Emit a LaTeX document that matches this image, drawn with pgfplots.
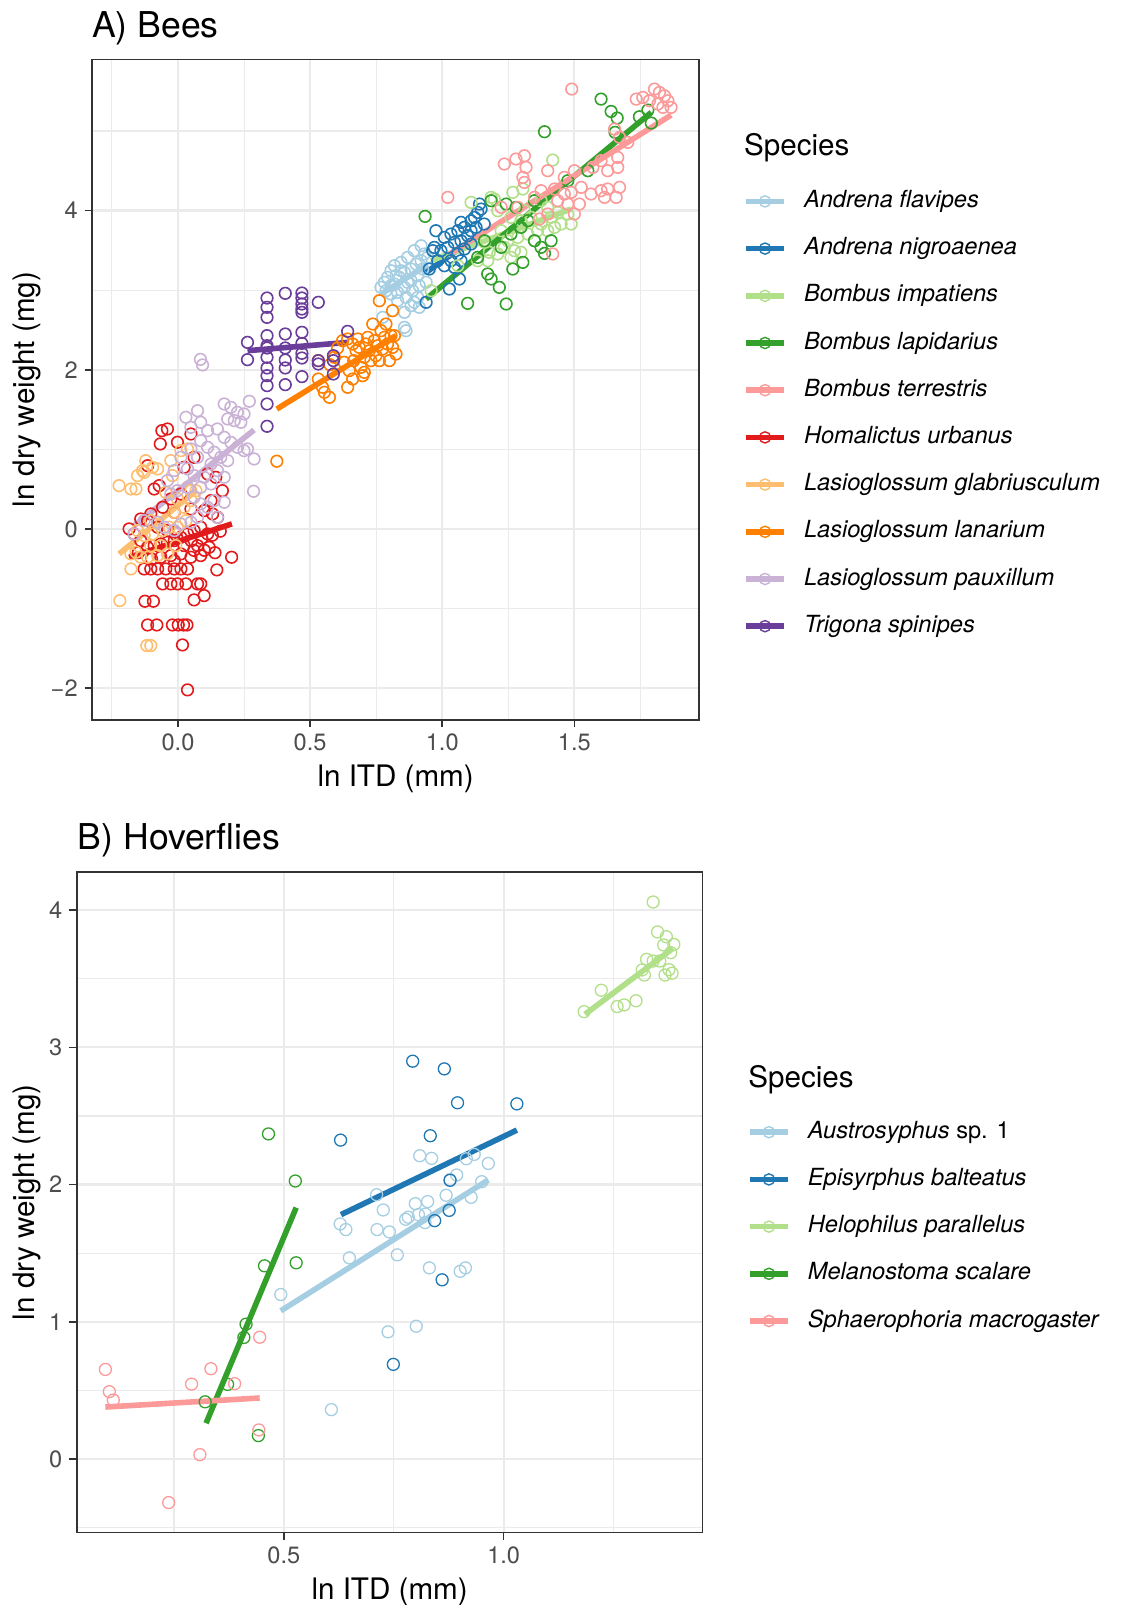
\documentclass[border=0pt]{standalone}
\usepackage{pgfplots}
\pgfplotsset{compat=1.18}
\usepackage{fontspec}
\setmainfont{TeX Gyre Heros}
\definecolor{c1}{HTML}{A6CEE3}
\definecolor{c2}{HTML}{1F78B4}
\definecolor{c3}{HTML}{B2DF8A}
\definecolor{c4}{HTML}{33A02C}
\definecolor{c5}{HTML}{FB9A99}
\definecolor{c6}{HTML}{E31A1C}
\definecolor{c7}{HTML}{FDBF6F}
\definecolor{c8}{HTML}{FF7F00}
\definecolor{c9}{HTML}{CAB2D6}
\definecolor{c10}{HTML}{6A3D9A}
\definecolor{gridc}{HTML}{EBEBEB}
\definecolor{axc}{HTML}{333333}
\definecolor{tickc}{HTML}{4D4D4D}
\pgfplotsset{
  ggbase/.style={
    scale only axis,
    anchor=north west,
    axis line style={axc, line width=0.8pt},
    tick align=outside,
    major tick length=3.7pt,
    minor tick length=0pt,
    tick style={axc, line width=0.8pt},
    xtick pos=left, ytick pos=left,
    grid=both,
    major grid style={gridc, line width=1.1pt},
    minor grid style={gridc, line width=0.55pt},
    tick label style={font=\fontsize{11.8}{14}\selectfont, text=tickc},
    legend style={draw=none, fill=none, inner sep=0pt, outer sep=0pt,
      row sep=12.3pt, column sep=8.6pt,
      font=\fontsize{11.8}{14}\selectfont\itshape,
      nodes={inner sep=0pt, text height=8.7pt, text depth=2.6pt},
      anchor=north west},
    legend cell align=left,
    legend image code/.code={
      \draw[##1, line width=2.8pt] (0pt,0pt) -- (19pt,0pt);
      \draw[##1, line width=0.7pt] (9.5pt,0pt) circle (2.8pt);
    },
  },
  ptsA/.style={only marks, mark=o, mark size=2.9pt, mark options={line width=0.8pt}, forget plot},
  ptsB/.style={only marks, mark=o, mark size=3.0pt, mark options={line width=0.65pt}, forget plot},
  fit/.style={line width=2.8pt},
}
\begin{document}
\begin{tikzpicture}
\useasboundingbox (0,0) rectangle (560.5pt,-802.5pt);
% ---------------- Panel A ----------------
\begin{axis}[ggbase, at={(46.05pt,-29.7pt)}, width=303.5pt, height=330.2pt,
  xmin=-0.325, xmax=1.972, ymin=-2.40, ymax=5.90,
  xtick={0,0.5,1,1.5}, xticklabels={0.0,0.5,1.0,1.5},
  ytick={-2,0,2,4}, yticklabels={−2,0,2,4},
  minor xtick={-0.25,0.25,0.75,1.25,1.75}, minor ytick={-1,1,3,5},
  legend style={at={(axis description cs:1.0727,0.8021)}}]
% Andrena flavipes
\addplot[ptsA, c1] coordinates {(0.920,3.558)(0.894,3.496)(0.869,3.412)(0.844,3.349)(0.819,3.307)(0.806,3.244)(0.793,3.161)(0.781,3.098)(0.768,3.035)(0.787,2.993)(0.819,3.077)(0.838,3.161)(0.857,3.223)(0.882,3.265)(0.901,3.328)(0.920,3.370)(0.932,3.454)(0.907,3.182)(0.882,3.119)(0.857,3.035)(0.831,2.972)(0.806,2.951)(0.888,2.993)(0.913,3.056)(0.863,2.909)(0.894,2.847)(0.913,2.784)(0.882,2.805)(0.857,2.721)(0.775,2.658)(0.857,2.532)(0.945,3.412)(0.926,3.265)(0.844,3.244)(0.825,3.182)(0.869,3.098)(0.806,3.056)(0.831,2.867)(0.907,2.909)(0.939,3.098)(0.863,2.490)};
% Andrena nigroaenea
\addplot[ptsA, c2] coordinates {(0.976,3.747)(1.008,3.663)(1.033,3.705)(1.059,3.747)(1.071,3.852)(1.084,3.789)(1.109,3.872)(1.122,3.914)(1.134,3.977)(1.147,4.019)(1.141,4.082)(1.128,3.789)(1.096,3.684)(1.071,3.621)(1.046,3.600)(1.021,3.537)(0.995,3.496)(0.964,3.496)(0.983,3.370)(1.008,3.307)(1.033,3.370)(1.059,3.454)(1.084,3.517)(1.109,3.579)(1.046,3.286)(1.065,3.140)(1.027,3.014)(0.951,3.265)(0.939,2.847)(1.071,3.370)(1.109,3.747)(1.159,3.831)(0.970,3.537)};
% Bombus impatiens
\addplot[ptsA, c3] coordinates {(1.418,4.635)(1.109,4.103)(1.185,4.166)(1.197,4.145)(1.267,4.229)(1.305,4.271)(1.374,4.124)(1.399,4.040)(1.260,3.915)(1.298,3.873)(1.336,3.915)(1.374,3.831)(1.412,3.915)(1.450,3.831)(1.488,3.831)(1.223,3.747)(1.248,3.621)(1.286,3.663)(1.324,3.705)(1.361,3.747)(1.399,3.747)(1.178,3.475)(1.210,3.454)(1.235,3.538)(1.273,3.496)(1.298,3.475)(1.134,3.370)(1.172,3.370)(1.260,3.412)(0.958,2.993)(1.059,3.307)(1.160,3.601)(1.210,3.998)(1.349,3.621)(1.425,3.789)(1.311,3.998)(1.437,3.977)(1.475,3.957)};
% Bombus lapidarius
\addplot[ptsA, c4] coordinates {(0.935,3.927)(1.387,4.991)(1.601,5.401)(1.639,5.246)(1.662,5.163)(1.654,4.983)(1.746,5.179)(1.778,5.263)(1.791,5.100)(1.412,3.621)(1.387,3.462)(1.305,3.349)(1.267,3.265)(1.185,3.140)(1.216,3.035)(1.096,2.834)(1.242,2.826)(1.172,3.203)(1.134,3.412)(1.223,3.538)(1.279,4.040)(1.242,4.082)(1.185,4.124)(1.349,4.124)(1.349,3.621)(1.374,3.538)(1.324,3.873)(1.298,3.789)(1.160,3.621)(1.260,3.705)(1.475,4.375)(1.551,4.501)};
% Bombus terrestris
\addplot[ptsA, c5] coordinates {(1.490,5.527)(1.734,5.401)(1.759,5.422)(1.803,5.527)(1.822,5.485)(1.841,5.443)(1.854,5.380)(1.816,5.339)(1.784,5.380)(1.835,5.297)(1.866,5.297)(1.652,5.024)(1.671,4.920)(1.702,4.857)(1.235,4.585)(1.279,4.648)(1.311,4.689)(1.317,4.543)(1.305,4.417)(1.311,4.354)(1.399,4.501)(1.500,4.501)(1.462,4.417)(1.526,4.292)(1.570,4.543)(1.601,4.627)(1.626,4.501)(1.664,4.668)(1.664,4.543)(1.021,4.166)(1.374,4.250)(1.425,4.271)(1.462,4.208)(1.488,4.229)(1.519,4.082)(1.563,4.208)(1.601,4.250)(1.626,4.271)(1.658,4.166)(1.671,4.292)(1.437,4.124)(1.475,4.082)(1.349,4.166)(1.286,4.040)(1.223,4.040)(1.418,3.454)(1.614,4.166)(1.399,3.957)(1.500,3.957)(1.368,3.894)};
% Homalictus urbanus
\addplot[ptsA, c6] coordinates {(-0.061,1.234)(-0.040,1.255)(-0.067,1.067)(-0.002,1.088)(0.049,1.192)(-0.115,0.794)(-0.090,0.501)(-0.071,0.543)(-0.185,-0.001)(0.023,0.773)(0.061,0.899)(0.112,0.690)(0.143,0.648)(0.168,0.480)(0.131,0.187)(0.099,0.229)(0.049,0.250)(-0.014,0.208)(-0.058,0.271)(-0.103,0.187)(-0.141,0.124)(-0.166,-0.064)(-0.141,-0.148)(-0.115,-0.232)(-0.090,-0.211)(-0.065,-0.190)(-0.040,-0.169)(-0.014,-0.148)(0.011,-0.106)(0.036,-0.064)(0.061,-0.022)(0.086,0.020)(0.112,-0.064)(-0.040,-0.022)(-0.077,0.020)(-0.115,0.103)(-0.065,-0.357)(-0.027,-0.336)(0.011,-0.315)(0.049,-0.357)(0.086,-0.336)(-0.128,-0.504)(-0.103,-0.504)(-0.077,-0.504)(-0.046,-0.504)(-0.014,-0.504)(0.011,-0.504)(0.036,-0.504)(-0.058,-0.692)(-0.027,-0.692)(-0.002,-0.692)(0.030,-0.692)(0.074,-0.692)(0.086,-0.692)(0.099,-0.839)(0.061,-0.893)(-0.125,-0.910)(-0.093,-0.910)(-0.115,-1.208)(-0.080,-1.208)(-0.021,-1.208)(0.001,-1.208)(0.021,-1.208)(0.034,-1.208)(0.017,-1.459)(0.036,-2.024)(0.203,-0.357)(0.147,-0.516)(0.118,-0.232)(0.074,-0.211)(0.023,-0.211)(-0.014,-0.399)(0.150,0.145)(0.125,0.355)(-0.027,0.376)(0.011,0.438)(0.050,-0.150)(0.090,-0.120)(0.130,-0.080)(0.160,-0.030)(-0.010,-0.040)(0.060,-0.270)(0.100,-0.270)(0.140,-0.300)(-0.100,-0.380)(-0.150,-0.300)};
% Lasioglossum glabriusculum
\addplot[ptsA, c7] coordinates {(-0.223,0.543)(-0.178,0.501)(-0.159,0.501)(-0.153,0.669)(-0.128,0.711)(-0.122,0.857)(-0.134,0.732)(-0.096,0.773)(-0.077,0.753)(-0.027,0.857)(0.011,0.983)(0.036,1.004)(-0.021,0.669)(-0.046,0.459)(-0.002,0.376)(0.049,0.480)(0.068,0.480)(0.030,0.103)(-0.002,0.020)(-0.033,0.020)(-0.058,-0.022)(-0.096,-0.064)(-0.128,-0.085)(-0.153,-0.022)(-0.178,-0.315)(-0.159,-0.294)(-0.141,-0.357)(-0.115,-0.357)(-0.077,-0.336)(-0.040,-0.315)(-0.008,-0.211)(-0.065,-0.211)(-0.103,-0.211)(-0.178,-0.504)(-0.220,-0.902)(-0.118,-1.467)(-0.103,-1.467)(0.023,0.271)(0.049,0.355)(-0.014,0.208)(-0.103,0.103)};
% Lasioglossum lanarium
\addplot[ptsA, c8] coordinates {(0.531,2.114)(0.531,1.883)(0.547,1.779)(0.573,1.653)(0.575,2.063)(0.592,2.156)(0.604,2.273)(0.623,2.365)(0.642,2.386)(0.648,1.988)(0.642,1.779)(0.661,2.323)(0.665,2.114)(0.674,2.239)(0.680,2.386)(0.686,2.281)(0.692,2.030)(0.699,1.925)(0.705,2.156)(0.711,2.323)(0.718,2.407)(0.724,2.239)(0.730,2.114)(0.737,2.574)(0.743,2.365)(0.749,2.176)(0.756,2.302)(0.762,2.114)(0.768,2.491)(0.774,2.260)(0.781,2.407)(0.787,2.574)(0.793,2.323)(0.800,2.114)(0.806,2.428)(0.812,2.281)(0.819,2.428)(0.825,2.197)(0.762,2.867)(0.812,2.742)(0.705,1.967)(0.629,2.093)(0.661,1.883)(0.554,1.716)(0.374,0.850)};
% Lasioglossum pauxillum
\addplot[ptsA, c9] coordinates {(0.175,1.569)(0.200,1.527)(0.225,1.464)(0.250,1.444)(0.270,1.603)(0.188,1.381)(0.213,1.360)(0.238,1.339)(0.074,1.485)(0.030,1.402)(0.049,1.276)(0.086,1.339)(0.112,1.234)(0.149,1.255)(0.175,1.150)(0.200,1.087)(0.225,1.025)(0.250,0.983)(0.288,0.878)(0.263,1.004)(0.086,1.108)(0.112,1.025)(0.137,0.962)(0.162,0.899)(0.188,0.857)(0.125,0.815)(0.149,0.732)(0.175,0.648)(0.099,0.648)(0.061,0.669)(0.036,0.753)(0.074,0.899)(0.049,1.004)(0.011,0.899)(-0.014,0.732)(-0.040,0.606)(-0.027,0.438)(-0.002,0.480)(0.036,0.522)(0.061,0.397)(0.086,0.313)(0.112,0.271)(0.137,0.355)(0.175,0.334)(0.149,0.145)(0.074,0.145)(0.049,0.082)(0.011,0.061)(-0.014,-0.022)(-0.052,0.020)(-0.077,0.082)(-0.128,0.103)(-0.166,-0.064)(0.286,0.472)(0.086,0.522)(0.125,0.564)(0.085,2.130)(0.093,2.060)};
% Trigona spinipes
\addplot[ptsA, c10] coordinates {(0.263,2.344)(0.263,2.126)(0.337,2.901)(0.337,2.784)(0.337,2.658)(0.337,2.428)(0.337,2.302)(0.337,2.273)(0.337,2.156)(0.337,2.022)(0.337,1.925)(0.337,1.800)(0.337,1.569)(0.337,1.289)(0.406,2.960)(0.406,2.449)(0.406,2.273)(0.406,2.122)(0.406,2.022)(0.406,1.812)(0.469,2.964)(0.469,2.901)(0.469,2.826)(0.469,2.763)(0.469,2.721)(0.469,2.470)(0.469,2.331)(0.469,2.206)(0.469,2.147)(0.469,1.913)(0.531,2.847)(0.531,2.114)(0.531,2.072)(0.588,2.176)(0.588,2.114)(0.588,1.946)(0.642,2.482)};
% fitted lines
\addplot[fit, c1] coordinates {(0.768,2.95)(0.945,3.32)};
\addlegendentry{Andrena flavipes}
\addplot[fit, c2] coordinates {(0.939,3.223)(1.159,3.740)};
\addlegendentry{Andrena nigroaenea}
\addplot[fit, c3] coordinates {(0.957,3.370)(1.488,4.019)};
\addlegendentry{Bombus impatiens}
\addplot[fit, c4] coordinates {(0.939,2.889)(1.791,5.234)};
\addlegendentry{Bombus lapidarius}
\addplot[fit, c5] coordinates {(1.027,3.453)(1.866,5.200)};
\addlegendentry{Bombus terrestris}
\addplot[fit, c6] coordinates {(-0.185,-0.358)(0.204,0.062)};
\addlegendentry{Homalictus urbanus}
\addplot[fit, c7] coordinates {(-0.223,-0.315)(0.068,0.480)};
\addlegendentry{Lasioglossum glabriusculum}
\addplot[fit, c8] coordinates {(0.374,1.506)(0.825,2.428)};
\addlegendentry{Lasioglossum lanarium}
\addplot[fit, c9] coordinates {(-0.166,0.041)(0.288,1.243)};
\addlegendentry{Lasioglossum pauxillum}
\addplot[fit, c10] coordinates {(0.263,2.239)(0.642,2.343)};
\addlegendentry{Trigona spinipes}
\end{axis}
% ---------------- Panel B ----------------
\begin{axis}[ggbase, at={(38.4pt,-436.1pt)}, width=312.8pt, height=330.2pt,
  xmin=0.029, xmax=1.452, ymin=-0.536, ymax=4.276,
  xtick={0.5,1}, xticklabels={0.5,1.0},
  ytick={0,1,2,3,4}, yticklabels={0,1,2,3,4},
  minor xtick={0.25,0.75,1.25}, minor ytick={-0.5,0.5,1.5,2.5,3.5},
  legend style={at={(axis description cs:1.0715,0.6234)}}]
\addplot[ptsB, c1] coordinates {(0.628,1.713)(0.641,1.672)(0.649,1.466)(0.711,1.926)(0.726,1.815)(0.712,1.672)(0.740,1.655)(0.758,1.488)(0.809,2.210)(0.836,2.191)(0.799,1.861)(0.827,1.876)(0.777,1.747)(0.783,1.762)(0.806,1.781)(0.822,1.785)(0.821,1.723)(0.869,1.922)(0.878,2.036)(0.893,2.070)(0.915,2.188)(0.933,2.220)(0.965,2.154)(0.950,2.021)(0.926,1.907)(0.831,1.393)(0.901,1.368)(0.913,1.393)(0.737,0.927)(0.801,0.968)(0.608,0.360)(0.493,1.199)};
\addplot[ptsB, c2] coordinates {(0.629,2.324)(0.793,2.899)(0.865,2.843)(0.895,2.596)(1.030,2.588)(0.833,2.356)(0.878,2.031)(0.876,1.812)(0.843,1.737)(0.860,1.306)(0.749,0.690)};
\addplot[ptsB, c3] coordinates {(1.340,4.059)(1.350,3.841)(1.370,3.806)(1.364,3.746)(1.387,3.750)(1.380,3.690)(1.325,3.641)(1.340,3.629)(1.355,3.629)(1.315,3.564)(1.320,3.527)(1.376,3.566)(1.367,3.527)(1.383,3.540)(1.222,3.416)(1.301,3.339)(1.274,3.309)(1.258,3.297)(1.183,3.260)};
\addplot[ptsB, c4] coordinates {(0.465,2.369)(0.526,2.026)(0.528,1.430)(0.456,1.408)(0.414,0.983)(0.409,0.886)(0.372,0.544)(0.321,0.417)(0.442,0.171)};
\addplot[ptsB, c5] coordinates {(0.094,0.653)(0.103,0.491)(0.112,0.430)(0.290,0.546)(0.334,0.658)(0.388,0.549)(0.445,0.888)(0.443,0.212)(0.309,0.032)(0.238,-0.317)};
\addplot[fit, c1] coordinates {(0.493,1.080)(0.965,2.034)};
\addlegendentry{Austrosyphus {\upshape sp. 1}}
\addplot[fit, c2] coordinates {(0.630,1.781)(1.030,2.397)};
\addlegendentry{Episyrphus balteatus}
\addplot[fit, c3] coordinates {(1.185,3.241)(1.385,3.721)};
\addlegendentry{Helophilus parallelus}
\addplot[fit, c4] coordinates {(0.323,0.261)(0.528,1.832)};
\addlegendentry{Melanostoma scalare}
\addplot[fit, c5] coordinates {(0.094,0.379)(0.445,0.445)};
\addlegendentry{Sphaerophoria macrogaster}
\end{axis}
% ---------------- Text ----------------
\begin{scope}[every node/.style={inner sep=0pt, outer sep=0pt}]
\node[anchor=base west, font=\fontsize{17.8}{20}\selectfont] at (46pt,-18.9pt) {A) Bees};
\node[anchor=base, font=\fontsize{14.8}{17}\selectfont] at (197.8pt,-393.1pt) {ln ITD (mm)};
\node[anchor=base, rotate=90, font=\fontsize{14.8}{17}\selectfont] at (17.4pt,-194.8pt) {ln dry weight (mg)};
\node[anchor=base west, font=\fontsize{14.8}{17}\selectfont] at (372.1pt,-77.8pt) {Species};
\node[anchor=base west, font=\fontsize{17.8}{20}\selectfont] at (38.9pt,-424.8pt) {B) Hoverflies};
\node[anchor=base, font=\fontsize{14.8}{17}\selectfont] at (194.8pt,-799.5pt) {ln ITD (mm)};
\node[anchor=base, rotate=90, font=\fontsize{14.8}{17}\selectfont] at (17.4pt,-601.2pt) {ln dry weight (mg)};
\node[anchor=base west, font=\fontsize{14.8}{17}\selectfont] at (374.2pt,-543.6pt) {Species};
\end{scope}
\end{tikzpicture}
\end{document}
